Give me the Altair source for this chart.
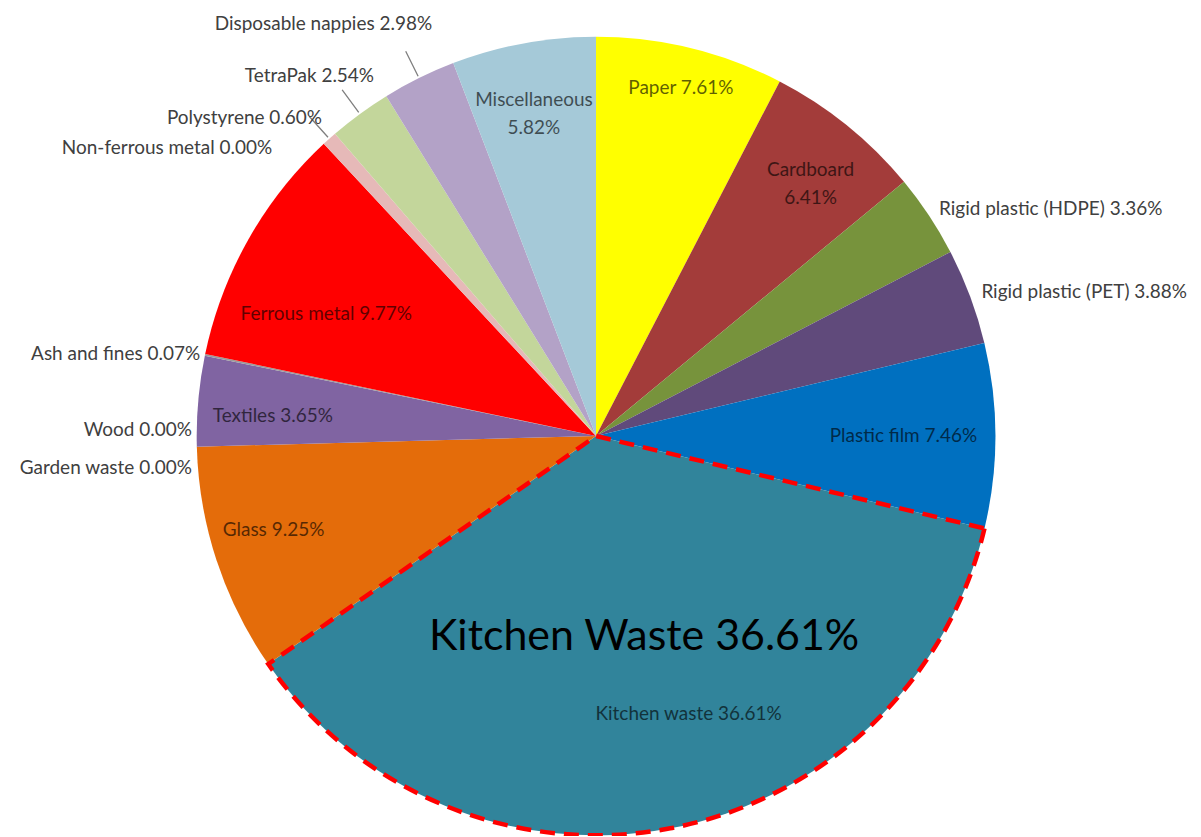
import math
import altair as alt
import pandas as pd

categories = [
    "Paper", "Cardboard", "Rigid plastic (HDPE)", "Rigid plastic (PET)",
    "Plastic film", "Kitchen waste", "Glass", "Garden waste", "Wood",
    "Textiles", "Ash and fines", "Ferrous metal", "Non-ferrous metal",
    "Polystyrene", "TetraPak", "Disposable nappies", "Miscellaneous",
]
values = [7.61, 6.41, 3.36, 3.88, 7.46, 36.61, 9.25, 0.00, 0.00,
          3.65, 0.07, 9.77, 0.00, 0.60, 2.54, 2.98, 5.82]
labels = [
    "Paper 7.61%", "Cardboard\n6.41%", "Rigid plastic (HDPE) 3.36%",
    "Rigid plastic (PET) 3.88%", "Plastic film 7.46%", "Kitchen waste 36.61%",
    "Glass 9.25%", "Garden waste 0.00%", "Wood 0.00%", "Textiles 3.65%",
    "Ash and fines 0.07%", "Ferrous metal 9.77%", "Non-ferrous metal 0.00%",
    "Polystyrene 0.60%", "TetraPak 2.54%", "Disposable nappies 2.98%",
    "Miscellaneous\n5.82%",
]
colors = [
    "#FFFF00", "#A33C3A", "#77933C", "#604A7B", "#0070C0", "#31849B",
    "#E46C0A", "#4BACC6", "#948A54", "#8064A2", "#9A9A9A", "#FF0000",
    "#C0C0C0", "#E6B9B8", "#C3D69B", "#B3A2C7", "#A5C9D8",
]
annotation = "Kitchen Waste 36.61%"

df = pd.DataFrame({"category": categories, "value": values,
                   "label": labels, "order": list(range(len(categories)))})
total = sum(values)

FONT = "Lato"
FS = 19
R = 400
theta_scale = alt.Scale(domain=[0, total], range=[0, 2 * math.pi])

base = alt.Chart(df).transform_window(
    cum="sum(value)", sort=[{"field": "order"}], frame=[None, 0]
).transform_calculate(
    start="datum.cum - datum.value",
    mid="datum.cum - datum.value / 2",
)

color_enc = alt.Color("category:N", scale=alt.Scale(domain=categories, range=colors), legend=None)

pie = base.mark_arc(outerRadius=R).encode(
    theta=alt.Theta("start:Q", stack=None, scale=theta_scale),
    theta2="cum:Q",
    color=color_enc,
)

outline = base.transform_filter(
    alt.datum.category == "Kitchen waste"
).mark_arc(outerRadius=R, filled=False, stroke="#FF0000", strokeWidth=4.5,
           strokeDash=[15, 9]).encode(
    theta=alt.Theta("start:Q", stack=None, scale=theta_scale),
    theta2="cum:Q",
)

leaders = base.transform_filter(
    alt.FieldOneOfPredicate(field="category", oneOf=["Disposable nappies", "TetraPak", "Polystyrene"])
).mark_arc(innerRadius=R + 2, outerRadius=R + 30, filled=False, stroke="#7F7F7F",
           strokeWidth=1.3).encode(
    theta=alt.Theta("mid:Q", stack=None, scale=theta_scale),
    theta2="mid:Q",
)

def label_layer(names, radius, align="center", dx=0, dy=0, color="#000000",
                opacity=0.62, size=FS, text_field="label"):
    return base.transform_filter(
        alt.FieldOneOfPredicate(field="category", oneOf=names)
    ).mark_text(radius=radius, align=align, baseline="middle", dx=dx, dy=dy,
                font=FONT, fontSize=size, color=color, opacity=opacity,
                lineBreak="\n", lineHeight=28).encode(
        theta=alt.Theta("mid:Q", stack=None, scale=theta_scale),
        text=f"{text_field}:N",
    )

GREY = "#404040"
layers = [
    pie, outline, leaders,
    label_layer(["Paper"], 359),
    label_layer(["Cardboard", "Miscellaneous"], 342),
    label_layer(["Glass"], 340, dy=-12),
    label_layer(["Textiles"], 325, dy=8),
    label_layer(["Plastic film"], 308),
    label_layer(["Kitchen waste"], 294, dx=38, dy=-10),
    label_layer(["Ferrous metal"], 300, dx=-9, dy=25),
    label_layer(["Rigid plastic (HDPE)", "Rigid plastic (PET)"], 412, align="left",
                color=GREY, opacity=1),
    label_layer(["Ash and fines"], 405, align="right", color=GREY, opacity=1),
    label_layer(["Wood"], 405, align="right", dy=-17, color=GREY, opacity=1),
    label_layer(["Garden waste"], 405, align="right", dy=21, color=GREY, opacity=1),
    label_layer(["Non-ferrous metal"], 420, align="right", dx=-38, dy=19, color=GREY, opacity=1),
    label_layer(["Polystyrene"], 420, align="right", dx=6, dy=-6, color=GREY, opacity=1),
    label_layer(["TetraPak"], 420, align="right", dx=26, dy=-22, color=GREY, opacity=1),
    label_layer(["Disposable nappies"], 420, align="right", dx=22, dy=-36, color=GREY, opacity=1),
]

big = base.transform_filter(
    alt.datum.category == "Kitchen waste"
).transform_calculate(ann=f"'{annotation}'").mark_text(
    radius=205, dx=10, align="center", baseline="middle", font=FONT,
    fontSize=43, color="#000000"
).encode(
    theta=alt.Theta("mid:Q", stack=None, scale=theta_scale),
    text="ann:N",
)
layers.append(big)

chart = alt.layer(*layers).properties(
    width=1170, height=800,
    padding={"left": 4, "top": 28, "right": 13, "bottom": 0},
    autosize=alt.AutoSizeParams(type="none"),
).configure_view(stroke=None)

chart.save("out.html", embed_options={"renderer": "svg", "actions": False})
